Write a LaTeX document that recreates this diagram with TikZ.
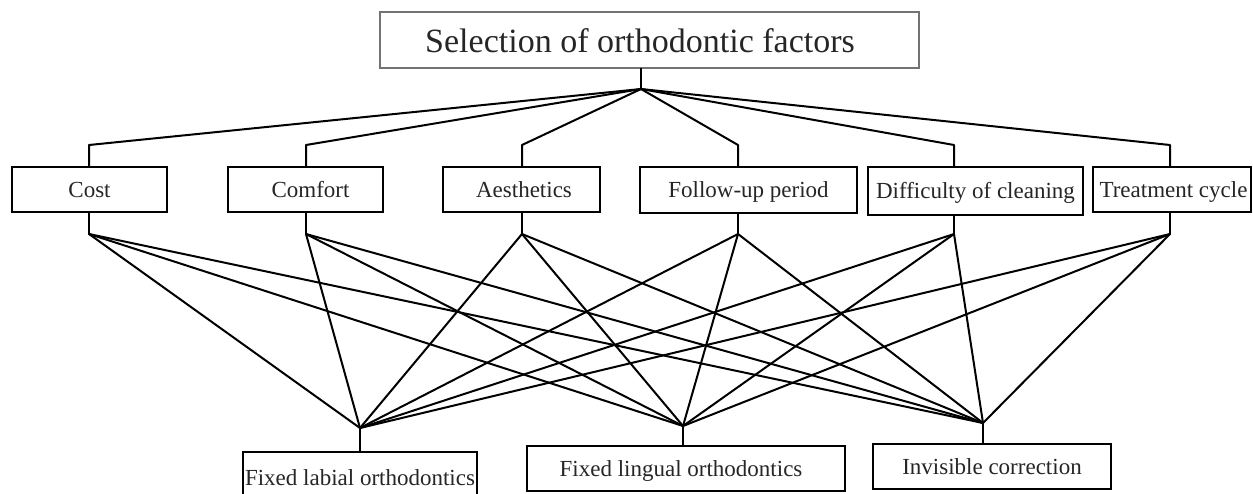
\documentclass[tikz,border=0pt]{standalone}
\usepackage{fontspec}
\setmainfont{Liberation Serif}
\begin{document}
\begin{tikzpicture}[x=1pt,y=-1pt,
  wire/.style={line width=2pt, line join=round, line cap=round},
  factor/.style={draw, line width=2pt, minimum height=45pt, inner sep=0pt,
    text height=19pt, text depth=4pt, text=black!85, font=\fontsize{23}{26}\selectfont},
  choice/.style={draw, line width=2pt, minimum height=45pt, inner sep=0pt,
    text height=20pt, text depth=5pt, text=black!85, font=\fontsize{23}{26}\selectfont},
  titlebox/.style={draw=black!55, line width=1.2pt, minimum width=539pt, minimum height=56pt,
    inner sep=0pt, text height=30pt, text depth=6pt, text=black!85, font=\fontsize{34}{38}\selectfont}
  ]
\useasboundingbox (0,0) rectangle (1253,493);
\clip (0,0) rectangle (1253,493);
\fill[white] (0,0) rectangle (1253,493);

% title
\node[titlebox] (title) at (649.5,40) {Selection of orthodontic factors\hspace*{19pt}};
\coordinate (J) at (641,89);

% factors
\node[factor, minimum width=155pt] (cost) at (89.5,189.5) {Cost};
\node[factor, minimum width=155pt] (comfort) at (305.5,189.5) {\hspace*{10pt}Comfort};
\node[factor, minimum width=157pt] (aesth) at (521.5,189.5) {\hspace*{5pt}Aesthetics};
\node[factor, minimum width=217pt, minimum height=46pt] (follow) at (748.5,190) {Follow-up period};
\node[factor, minimum width=215pt, minimum height=48pt] (diff) at (975.5,191) {Difficulty of cleaning};
\node[factor, minimum width=158pt] (treat) at (1172,189.5) {\hspace*{3pt}Treatment cycle};

\coordinate (costU) at (89,145);    \coordinate (costD) at (89,234);
\coordinate (comfortU) at (306,145); \coordinate (comfortD) at (306,234);
\coordinate (aesthU) at (522,145);  \coordinate (aesthD) at (522,234);
\coordinate (followU) at (738,145); \coordinate (followD) at (738,234);
\coordinate (diffU) at (954,145);   \coordinate (diffD) at (954,234);
\coordinate (treatU) at (1170,145); \coordinate (treatD) at (1170,234);

% alternatives
\node[choice, minimum width=234pt, minimum height=51pt] (labial) at (360,477.5) {Fixed labial orthodontics};
\node[choice, minimum width=318pt] (lingual) at (686,468.5) {Fixed lingual orthodontics\hspace*{10pt}};
\node[choice, minimum width=238pt] (invis) at (992,466.5) {Invisible correction};

\coordinate (L) at (360,428);
\coordinate (G) at (683,426);
\coordinate (V) at (983,423);

% title stub
\draw[wire] (J |- title.south) -- (J);

% top tree
\foreach \f in {cost,comfort,aesth,follow,diff,treat}{
  \draw[wire] (J) -- (\f U) -- (\f U |- \f.north);
  \draw[wire] (\f U |- \f.south) -- (\f D);
  \foreach \b in {L,G,V}{
    \draw[wire] (\f D) -- (\b);
  }
}

% bottom stubs
\draw[wire] (L) -- (L |- labial.north);
\draw[wire] (G) -- (G |- lingual.north);
\draw[wire] (V) -- (V |- invis.north);
\end{tikzpicture}
\end{document}
